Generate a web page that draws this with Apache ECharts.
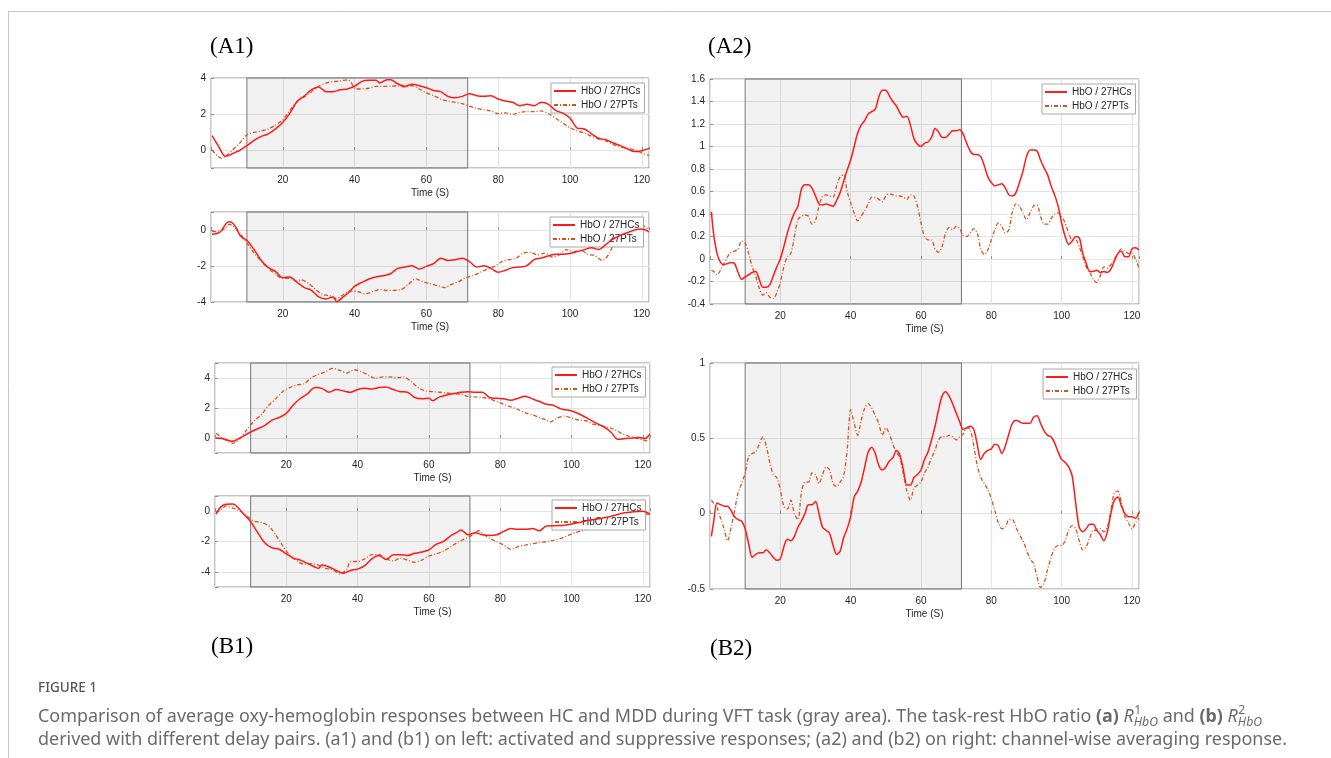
<!DOCTYPE html>
<html>
<head>
<meta charset="utf-8">
<script src="https://cdn.jsdelivr.net/npm/echarts@6/dist/echarts.min.js"></script>
<style>
html,body{margin:0;padding:0;background:#fff;}
#chart{width:1331px;height:758px;}
</style>
</head>
<body>
<div id="chart"></div>
<script>
// ---------------- DATA ----------------
const legendNames = ['HbO / 27HCs', 'HbO / 27PTs'];
const panelTitles = ['(A1)', '(A2)', '(B1)', '(B2)'];
const axisName = 'Time (S)';
const taskWindow = [10, 71.5];

// (A1) activated
const a1Act_HC = [[0.3,0.8],[2,0.24],[4,-0.35],[5,-0.3],[6,-0.2],[8,-0.02],[10,0.24],[12,0.54],[14,0.76],[16,0.9],[18,1.17],[20,1.54],[22,2.05],[24,2.7],[26,3.0],[28,3.35],[30,3.5],[32,3.24],[34,3.24],[36,3.35],[38,3.39],[40,3.54],[42,3.81],[44,3.87],[46,3.87],[47,3.72],[49,3.9],[50,3.9],[52,3.68],[54,3.54],[56,3.65],[58,3.57],[60,3.46],[62,3.31],[64,3.24],[66,2.98],[68,2.9],[70,2.98],[72,3.13],[74,3.02],[76,2.98],[78,3.02],[80,2.83],[82,2.72],[84,2.65],[86,2.46],[88,2.54],[90,2.46],[92,2.65],[94,2.54],[96,2.2],[98,2.05],[100,1.78],[102,1.22],[104,1.17],[106,0.9],[108,0.65],[110,0.57],[112,0.39],[114,0.24],[116,0.06],[118,-0.09],[120,-0.04],[122,0.09]];
const a1Act_PT = [[0.3,0],[2,-0.35],[3,-0.46],[5,-0.2],[6,0],[8,0.39],[10,0.85],[12,0.98],[14,1.06],[16,1.17],[18,1.39],[20,1.69],[22,2.2],[24,2.7],[26,2.94],[28,3.24],[30,3.54],[32,3.72],[34,3.8],[36,3.83],[38,3.9],[39,3.76],[40,3.43],[42,3.39],[44,3.43],[46,3.54],[48,3.54],[50,3.54],[52,3.57],[54,3.5],[56,3.57],[58,3.39],[60,3.17],[62,3.02],[64,2.83],[66,2.72],[68,2.65],[70,2.57],[72,2.43],[74,2.31],[76,2.24],[78,2.17],[80,2.02],[82,2.06],[84,1.98],[86,2.09],[88,2.13],[90,2.13],[92,2.17],[94,2.02],[96,1.76],[98,1.5],[100,1.24],[102,1.06],[104,0.94],[106,0.76],[108,0.61],[110,0.5],[112,0.31],[114,0.17],[116,0.09],[118,0],[120,-0.17],[122,-0.31]];
// (A1) suppressive
const a1Sup_HC = [[0.3,-0.24],[2,-0.17],[3,-0.02],[4,0.31],[5,0.46],[6,0.39],[7,0.13],[8,-0.28],[9,-0.46],[10,-0.57],[12,-1.09],[14,-1.69],[16,-2.09],[18,-2.31],[20,-2.65],[22,-2.61],[24,-2.91],[26,-3.2],[28,-3.35],[30,-3.72],[32,-3.83],[34,-3.72],[35,-3.98],[37,-3.69],[38,-3.54],[40,-3.13],[42,-2.91],[44,-2.72],[46,-2.61],[48,-2.54],[50,-2.43],[52,-2.13],[54,-2.06],[56,-1.98],[58,-2.17],[60,-2.02],[62,-1.87],[64,-1.57],[66,-1.69],[68,-1.65],[70,-1.57],[72,-1.76],[74,-2.06],[76,-1.98],[78,-2.13],[80,-2.35],[82,-2.24],[84,-2.09],[86,-2.06],[88,-1.98],[90,-1.65],[92,-1.56],[94,-1.43],[96,-1.35],[98,-1.35],[100,-1.31],[102,-1.2],[104,-1.09],[106,-0.98],[108,-1.09],[110,-0.8],[112,-0.5],[114,-0.3],[116,-0.15],[118,0],[120,0.05],[122,-0.1]];
const a1Sup_PT = [[0.3,-0.09],[2,-0.06],[4,0.09],[5,0.31],[6,0.24],[8,-0.17],[10,-0.72],[12,-1.28],[14,-1.74],[16,-2.13],[18,-2.46],[20,-2.69],[22,-2.69],[24,-2.87],[25,-2.76],[27,-2.94],[29,-3.28],[31,-3.57],[33,-3.65],[35,-3.8],[37,-3.57],[39,-3.39],[41,-3.43],[43,-3.54],[45,-3.43],[47,-3.31],[49,-3.35],[51,-3.35],[53,-3.31],[55,-3.02],[57,-2.72],[59,-2.87],[61,-2.98],[63,-3.09],[65,-3.2],[67,-3.02],[69,-2.87],[71,-2.65],[73,-2.54],[75,-2.35],[77,-2.17],[79,-2.02],[81,-1.76],[83,-1.65],[85,-1.57],[87,-1.28],[89,-1.24],[91,-1.39],[93,-1.28],[95,-1.5],[97,-1.39],[99,-1.09],[101,-1.2],[103,-1.13],[105,-1.35],[107,-1.43],[109,-1.69],[111,-1.28],[113,-0.35],[116,0.1],[119,0.39],[121,0.17],[122,0]];
// (B1) activated
const b1Act_HC = [[0.3,0],[2,-0.04],[4,-0.18],[5,-0.22],[6,-0.13],[8,0.13],[10,0.4],[12,0.62],[14,0.84],[16,1.19],[18,1.37],[20,1.64],[22,2.21],[24,2.65],[26,2.96],[28,3.36],[30,3.31],[32,3.05],[34,3.23],[36,3.14],[38,3.05],[40,3.23],[42,3.31],[44,3.27],[46,3.36],[48,3.4],[50,3.23],[52,3.09],[54,3.05],[56,2.7],[58,2.61],[60,2.65],[61,2.48],[63,2.74],[65,2.87],[67,2.96],[69,3.05],[71,3.09],[73,3.05],[75,3.05],[77,2.7],[79,2.65],[81,2.61],[83,2.52],[85,2.65],[87,2.78],[89,2.61],[91,2.43],[93,2.25],[95,2.17],[97,1.94],[99,1.86],[101,1.72],[103,1.5],[105,1.24],[107,0.97],[109,0.75],[111,0.4],[113,-0.09],[115,-0.04],[117,0],[119,0.04],[120.5,-0.04],[122,0.27]];
const b1Act_PT = [[0.3,0.31],[2,0],[4,-0.27],[5,-0.35],[7,-0.04],[9,0.57],[11,1.15],[13,1.55],[15,2.17],[17,2.61],[19,3.09],[21,3.36],[23,3.54],[25,3.62],[27,4.02],[29,4.24],[31,4.42],[33,4.64],[35,4.51],[37,4.33],[39,4.55],[41,4.42],[43,4.2],[45,3.98],[47,4.07],[49,4.07],[51,4.02],[53,4.07],[55,3.76],[57,3.36],[59,3.14],[61,3.09],[63,3.05],[65,3.0],[67,2.96],[69,2.92],[71,2.78],[73,2.74],[75,2.7],[77,2.61],[79,2.43],[81,2.25],[83,2.08],[85,1.9],[87,1.68],[89,1.55],[91,1.37],[93,1.19],[94,1.06],[96,1.33],[98,1.46],[100,1.33],[102,1.19],[104,1.15],[106,0.93],[108,0.84],[110,0.71],[112,0.57],[114,0.31],[116,0.13],[118,0],[120,-0.13],[121,-0.18],[122,0]];
// (B1) suppressive
const b1Sup_HC = [[0.3,-0.2],[1.5,0.25],[3,0.45],[5,0.47],[6,0.34],[8,-0.18],[10,-0.7],[12,-1.42],[14,-2.1],[16,-2.42],[18,-2.51],[20,-2.82],[22,-3.1],[24,-3.23],[26,-3.46],[28,-3.68],[29,-3.77],[30,-3.55],[32,-3.68],[34,-3.91],[36,-4.09],[38,-3.91],[40,-3.82],[42,-3.59],[44,-3.14],[46,-2.92],[48,-3.19],[50,-2.87],[52,-2.87],[54,-2.92],[56,-2.78],[58,-2.69],[60,-2.55],[62,-2.19],[64,-2.01],[66,-1.65],[68,-1.38],[69,-1.24],[71,-1.56],[73,-1.42],[75,-1.56],[77,-1.6],[79,-1.56],[81,-1.33],[83,-1.15],[85,-1.2],[87,-1.2],[89,-1.15],[91,-1.29],[93,-0.97],[97,-0.95],[101,-0.8],[105,-0.6],[110,-0.4],[115,-0.1],[120,0],[122,-0.2]];
const b1Sup_PT = [[0.3,-0.11],[2,0.16],[3,0.34],[5,0.2],[7,0.02],[9,-0.34],[11,-0.66],[13,-0.75],[15,-0.97],[17,-1.56],[19,-2.28],[21,-2.92],[23,-3.28],[25,-3.5],[27,-3.46],[29,-3.55],[31,-3.77],[33,-3.86],[35,-4.14],[37,-3.82],[38,-3.32],[40,-3.32],[42,-3.14],[44,-2.87],[46,-2.87],[48,-3.14],[50,-3.28],[52,-3.1],[54,-3.23],[56,-3.37],[58,-3.23],[60,-2.96],[62,-2.82],[64,-2.64],[66,-2.37],[68,-2.06],[70,-1.83],[72,-1.6],[74,-1.29],[75,-1.47],[77,-1.79],[79,-2.01],[81,-2.24],[83,-2.51],[85,-2.33],[87,-2.24],[89,-2.15],[91,-2.06],[93,-2.01],[95,-1.92],[97,-1.79],[99,-1.6],[101,-1.42],[103,-1.29],[105,-1.15],[107,-1.02],[110,-0.8],[115,-0.5],[120,-0.2],[122,-0.2]];
// (A2) channel-wise
const a2_HC = [[0.4,0.42],[1,0.23],[2,0.05],[3,-0.03],[4,-0.05],[5,-0.04],[6,-0.03],[7,-0.04],[8,-0.12],[9,-0.18],[10,-0.16],[11,-0.14],[12,-0.12],[13,-0.11],[14,-0.18],[15,-0.25],[16,-0.25],[17,-0.23],[18,-0.15],[19,-0.07],[20,0],[21,0.11],[22,0.23],[23,0.33],[24,0.41],[25,0.47],[26,0.62],[27,0.66],[28,0.66],[29,0.63],[30,0.56],[31,0.49],[32,0.48],[33,0.49],[34,0.48],[35,0.47],[36,0.52],[37,0.59],[38,0.69],[39,0.79],[40,0.88],[41,1.0],[42,1.12],[43,1.19],[44,1.23],[45,1.29],[46,1.31],[47,1.33],[48,1.44],[49,1.5],[50,1.5],[51,1.45],[52,1.4],[53,1.36],[54,1.3],[55,1.26],[56,1.27],[57,1.19],[58,1.07],[59,1.02],[60,1.0],[61,1.03],[62,1.04],[63,1.08],[64,1.16],[65,1.13],[66,1.08],[67,1.08],[68,1.11],[69,1.14],[70,1.14],[71,1.15],[72,1.11],[73,1.03],[74,0.96],[75,0.93],[76,0.93],[77,0.91],[78,0.83],[79,0.73],[80,0.68],[81,0.65],[82,0.66],[83,0.67],[84,0.63],[85,0.57],[86,0.56],[87,0.59],[88,0.68],[89,0.78],[90,0.91],[91,0.97],[92,0.97],[93,0.96],[94,0.88],[95,0.81],[96,0.75],[97,0.65],[98,0.57],[99,0.47],[100,0.32],[101,0.2],[102,0.13],[103,0.16],[104,0.2],[105,0.19],[106,0.05],[107,-0.04],[108,-0.11],[109,-0.11],[110,-0.1],[111,-0.12],[112,-0.11],[113,-0.12],[114,-0.09],[115,-0.02],[116,0.05],[117,0.07],[118,0.02],[119,0.02],[120,0.09],[121,0.1],[122,0.08]];
const a2_PT = [[0.4,-0.1],[1,-0.11],[2,-0.14],[3,-0.1],[4,-0.04],[5,0.02],[6,0.06],[7,0.07],[8,0.09],[9,0.16],[10,0.14],[11,0.05],[12,-0.07],[13,-0.15],[14,-0.26],[15,-0.32],[16,-0.3],[17,-0.34],[18,-0.35],[19,-0.3],[20,-0.21],[21,-0.07],[22,0.02],[23,0.05],[24,0.2],[25,0.35],[26,0.38],[27,0.39],[28,0.38],[29,0.31],[30,0.34],[31,0.47],[32,0.56],[33,0.57],[34,0.56],[35,0.55],[36,0.65],[37,0.73],[38,0.75],[39,0.6],[40,0.5],[41,0.41],[42,0.34],[43,0.38],[44,0.43],[45,0.49],[46,0.55],[47,0.55],[48,0.53],[49,0.51],[50,0.56],[51,0.58],[52,0.57],[53,0.56],[54,0.56],[55,0.55],[56,0.53],[57,0.57],[58,0.56],[59,0.47],[60,0.32],[61,0.2],[62,0.17],[63,0.17],[64,0.09],[65,0.06],[66,0.11],[67,0.23],[68,0.28],[69,0.26],[70,0.29],[71,0.27],[72,0.21],[73,0.2],[74,0.23],[75,0.27],[76,0.23],[77,0.09],[78,0.04],[79,0.08],[80,0.17],[81,0.26],[82,0.32],[83,0.29],[84,0.23],[85,0.26],[86,0.42],[87,0.49],[88,0.47],[89,0.41],[90,0.35],[91,0.41],[92,0.47],[93,0.48],[94,0.38],[95,0.31],[96,0.31],[97,0.36],[98,0.4],[99,0.41],[100,0.38],[101,0.32],[102,0.23],[103,0.17],[104,0.17],[105,0.11],[106,0.02],[107,-0.07],[108,-0.12],[109,-0.18],[110,-0.21],[111,-0.15],[112,-0.07],[113,-0.08],[114,-0.05],[115,0],[116,0.05],[117,0.09],[118,0.07],[119,0.05],[120,0.05],[121,0],[122,-0.08]];
// (B2) channel-wise
const b2_HC = [[0.4,-0.15],[1,-0.06],[2,0.07],[3,0.06],[4,0.05],[5,0.05],[6,0.02],[7,-0.02],[8,-0.04],[9,-0.05],[10,-0.1],[11,-0.2],[12,-0.29],[13,-0.27],[14,-0.26],[15,-0.26],[16,-0.24],[17,-0.26],[18,-0.29],[19,-0.31],[20,-0.3],[21,-0.22],[22,-0.17],[23,-0.18],[24,-0.15],[25,-0.09],[26,-0.05],[27,0],[28,0.06],[29,0.06],[30,0.08],[31,0],[32,-0.09],[33,-0.11],[34,-0.13],[35,-0.21],[36,-0.27],[37,-0.25],[38,-0.16],[39,-0.1],[40,-0.02],[41,0.11],[42,0.15],[43,0.21],[44,0.31],[45,0.41],[46,0.44],[47,0.4],[48,0.32],[49,0.29],[50,0.31],[51,0.35],[52,0.37],[53,0.42],[54,0.39],[55,0.29],[56,0.19],[57,0.19],[58,0.24],[59,0.26],[60,0.29],[61,0.36],[62,0.41],[63,0.49],[64,0.58],[65,0.69],[66,0.78],[67,0.81],[68,0.78],[69,0.73],[70,0.67],[71,0.61],[72,0.56],[73,0.57],[74,0.58],[75,0.56],[76,0.46],[77,0.36],[78,0.4],[79,0.42],[80,0.43],[81,0.46],[82,0.45],[83,0.4],[84,0.45],[85,0.53],[86,0.6],[87,0.62],[88,0.61],[89,0.6],[90,0.6],[91,0.6],[92,0.64],[93,0.65],[94,0.6],[95,0.55],[96,0.52],[97,0.51],[98,0.47],[99,0.41],[100,0.36],[101,0.34],[102,0.31],[103,0.25],[104,0.07],[105,-0.09],[106,-0.12],[107,-0.1],[108,-0.07],[109,-0.07],[110,-0.11],[111,-0.14],[112,-0.18],[113,-0.12],[114,0],[115,0.09],[116,0.11],[117,0.05],[118,0],[119,-0.02],[120,-0.02],[121,-0.03],[122,0.01]];
const b2_PT = [[0.4,0.09],[1,0.07],[2,0.04],[3,-0.03],[4,-0.1],[5,-0.18],[6,-0.09],[7,0.02],[8,0.14],[9,0.2],[10,0.27],[11,0.38],[12,0.4],[13,0.41],[14,0.46],[15,0.51],[16,0.45],[17,0.34],[18,0.26],[19,0.24],[20,0.16],[21,0.05],[22,0.03],[23,0.09],[24,0],[25,-0.04],[26,0.14],[27,0.21],[28,0.21],[29,0.27],[30,0.26],[31,0.2],[32,0.26],[33,0.31],[34,0.29],[35,0.2],[36,0.18],[37,0.21],[38,0.25],[39,0.42],[40,0.69],[41,0.6],[42,0.52],[43,0.62],[44,0.7],[45,0.73],[46,0.7],[47,0.65],[48,0.6],[49,0.52],[50,0.57],[51,0.53],[52,0.46],[53,0.41],[54,0.37],[55,0.26],[56,0.15],[57,0.09],[58,0.17],[59,0.19],[60,0.21],[61,0.27],[62,0.31],[63,0.37],[64,0.42],[65,0.49],[66,0.51],[67,0.51],[68,0.52],[69,0.51],[70,0.49],[71,0.51],[72,0.53],[73,0.57],[74,0.56],[75,0.45],[76,0.32],[77,0.24],[78,0.2],[79,0.16],[80,0.1],[81,0.02],[82,-0.06],[83,-0.1],[84,-0.09],[85,-0.04],[86,-0.04],[87,-0.09],[88,-0.14],[89,-0.18],[90,-0.24],[91,-0.3],[92,-0.33],[93,-0.42],[94,-0.49],[95,-0.46],[96,-0.37],[97,-0.29],[98,-0.23],[99,-0.21],[100,-0.21],[101,-0.18],[102,-0.11],[103,-0.08],[104,-0.1],[105,-0.18],[106,-0.24],[107,-0.22],[108,-0.16],[109,-0.11],[110,-0.11],[111,-0.1],[112,-0.12],[113,-0.09],[114,0.02],[115,0.14],[116,0.15],[117,0.07],[118,-0.02],[119,-0.06],[120,-0.1],[121,-0.06],[122,-0.03]];

const hcSeries = [a1Act_HC, a1Sup_HC, b1Act_HC, b1Sup_HC, a2_HC, b2_HC];
const ptSeries = [a1Act_PT, a1Sup_PT, b1Act_PT, b1Sup_PT, a2_PT, b2_PT];

// y-axis ranges per panel
const yRanges = [[-1,4],[-4,1],[-1,5],[-5,1],[-0.4,1.6],[-0.5,1]];
const yStep   = [2, 2, 2, 2, 0.2, 0.5];
const xRange = [0, 122];
const xStep = 20;

const captionHead = 'FIGURE 1';
const captionL1a = 'Comparison of average oxy-hemoglobin responses between HC and MDD during VFT task (gray area). The task-rest HbO ratio ';
const captionL2 = 'derived with different delay pairs. (a1) and (b1) on left: activated and suppressive responses; (a2) and (b2) on right: channel-wise averaging response.';

// ---------------- LAYOUT ----------------
const gridBoxes = [
  {left:211, top:78,  width:438, height:90},
  {left:211, top:212, width:438, height:90},
  {left:215, top:363, width:435, height:90},
  {left:215, top:496, width:435, height:91},
  {left:710, top:79,  width:429, height:225},
  {left:710, top:363, width:429, height:226}
];
const legendPos = [[551,83],[550,217],[552,367],[552,500],[1042,84],[1043,369]];

const AX = '#8f8f8f', TXT = '#262626', GRIDC = '#e4e4e4';
const FONT = 'Liberation Sans';
const HC_COLOR = '#ff1a1a', PT_COLOR = '#d95319';

const grids = gridBoxes.map(g => Object.assign({show:true, borderColor:AX, borderWidth:1, backgroundColor:'#fff', containLabel:false}, g));

const xAxes = gridBoxes.map((g,i) => ({
  type:'value', gridIndex:i, min:xRange[0], max:xRange[1], interval:xStep,
  name:axisName, nameLocation:'middle', nameGap:20,
  nameTextStyle:{fontSize:10, color:TXT, fontFamily:FONT},
  axisLine:{show:false},
  axisTick:{show:true, inside:true, length:3, lineStyle:{color:AX}},
  axisLabel:{fontSize:10, color:TXT, fontFamily:FONT, margin:7,
    formatter: v => (v > 0 && Math.abs(v % xStep) < 1e-9) ? String(v) : ''},
  splitLine:{show:true, lineStyle:{color:GRIDC, width:1}}
}));

const yAxes = gridBoxes.map((g,i) => {
  const a = {
    type:'value', gridIndex:i, min:yRanges[i][0], max:yRanges[i][1],
    axisLine:{show:false},
    axisTick:{show:true, inside:true, length:3, lineStyle:{color:AX}},
    axisLabel:{fontSize:10, color:TXT, fontFamily:FONT, margin:5},
    splitLine:{show:true, lineStyle:{color:GRIDC, width:1}}
  };
  if (i < 4) {
    a.splitNumber = 3;
    a.axisLabel.formatter = v => {
      const r = Math.round(v);
      return (Math.abs(r - v) < 1e-9 && r % 2 === 0) ? String(r) : '';
    };
  } else {
    a.interval = yStep[i];
  }
  return a;
});

const series = [];
gridBoxes.forEach((g,i) => {
  series.push({
    type:'line', name:'task', xAxisIndex:i, yAxisIndex:i, data:[], silent:true, z:1,
    markArea:{silent:true, itemStyle:{color:'rgba(0,0,0,0.055)', borderColor:'#767676', borderWidth:1},
      data:[[{xAxis:taskWindow[0]},{xAxis:taskWindow[1]}]]}
  });
  series.push({
    type:'line', name:legendNames[0], xAxisIndex:i, yAxisIndex:i, data:hcSeries[i],
    showSymbol:false, symbol:'none', smooth:0.3, z:4,
    lineStyle:{color:HC_COLOR, width:1.5}, itemStyle:{color:HC_COLOR}
  });
  series.push({
    type:'line', name:legendNames[1], xAxisIndex:i, yAxisIndex:i, data:ptSeries[i],
    showSymbol:false, symbol:'none', smooth:0.3, z:3,
    lineStyle:{color:PT_COLOR, width:1.3, type:[4,2,1,2]}, itemStyle:{color:PT_COLOR}
  });
});

const legends = legendPos.map(p => ({
  left:p[0], top:p[1], orient:'vertical', data:legendNames, selectedMode:false,
  itemWidth:22, itemHeight:10, itemGap:4, padding:[3,4,3,2],
  borderColor:'#a8a8a8', borderWidth:1, backgroundColor:'#fff',
  itemStyle:{color:'rgba(0,0,0,0)', borderColor:'rgba(0,0,0,0)', borderWidth:0, opacity:0},
  textStyle:{fontSize:10, color:TXT, fontFamily:FONT}
}));

// ---------------- CAPTION / TITLES (graphic text) ----------------
const CAPF = "'Noto Sans', sans-serif";
const ctx = document.createElement('canvas').getContext('2d');
function fontStr(size, weight, style){ return (style||'normal') + ' ' + (weight||'normal') + ' ' + size + 'px ' + CAPF; }
function tw(t, size, weight, style){ ctx.font = fontStr(size, weight, style); return ctx.measureText(t).width; }
let cs = 16 * 1250 / tw(captionL2, 16);
if (cs > 19) cs = 19;
const CAPC = '#6a6a6a';
function txt(x, y, text, font, fill){
  return {type:'text', x:x, y:y, silent:true,
    style:{text:text, font:font, fill:fill, align:'left', verticalAlign:'middle', textAlign:'left', textVerticalAlign:'middle'}};
}
const graphics = [];
// frame
graphics.push({type:'line', silent:true, shape:{x1:8, y1:11.5, x2:1331, y2:11.5}, style:{stroke:'#c6c6cc', lineWidth:1}});
graphics.push({type:'line', silent:true, shape:{x1:8.5, y1:11, x2:8.5, y2:758}, style:{stroke:'#c6c6cc', lineWidth:1}});
// panel titles
const TF = "23px 'Liberation Serif'";
graphics.push(txt(210, 47, panelTitles[0], TF, '#000'));
graphics.push(txt(708, 47, panelTitles[1], TF, '#000'));
graphics.push(txt(211, 647, panelTitles[2], TF, '#000'));
graphics.push(txt(710, 649, panelTitles[3], TF, '#000'));
// caption
graphics.push(txt(38, 688, captionHead, fontStr(13.5, '500'), '#555'));
let cx = 38; const y1 = 717, y2 = 740;
function seg(text, weight, style){ graphics.push(txt(cx, y1, text, fontStr(cs, weight, style), CAPC)); cx += tw(text, cs, weight, style); }
function rsym(sup){
  seg('R', 'normal', 'italic');
  const ss = cs * 0.68;
  graphics.push(txt(cx + 0.5, y1 - cs*0.36, sup, fontStr(ss, 'normal', 'normal'), CAPC));
  graphics.push(txt(cx, y1 + cs*0.32, 'HbO', fontStr(ss, 'normal', 'italic'), CAPC));
  cx += Math.max(tw(sup, ss), tw('HbO', ss, 'normal', 'italic'));
}
seg(captionL1a);
seg('(a)', 'bold');
seg(' ');
rsym('1');
seg(' and ');
seg('(b)', 'bold');
seg(' ');
rsym('2');
graphics.push(txt(38, y2, captionL2, fontStr(cs), CAPC));

const chart = echarts.init(document.getElementById('chart'), null, {renderer:'canvas'});
chart.setOption({
  backgroundColor:'#fff',
  animation:false,
  grid:grids, xAxis:xAxes, yAxis:yAxes, series:series, legend:legends,
  graphic:{elements:graphics}
});
</script>
</body>
</html>
